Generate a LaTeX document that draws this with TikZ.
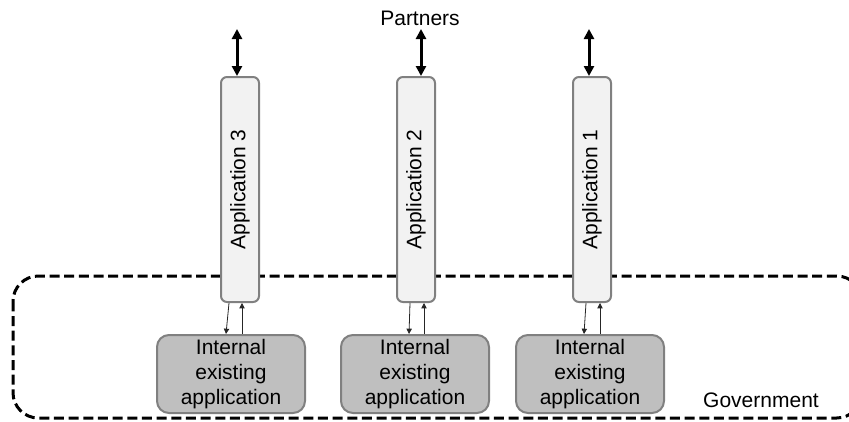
\documentclass[tikz,border=0pt]{standalone}
\usepackage{fontspec}
\setmainfont{Liberation Sans}
\usetikzlibrary{arrows.meta}
\definecolor{appfill}{RGB}{242,242,242}
\definecolor{intfill}{RGB}{191,191,191}
\definecolor{boxline}{RGB}{128,128,128}

\begin{document}
\begin{tikzpicture}[x=0.75pt, y=-0.75pt,
    app/.style={draw=boxline, fill=appfill, line width=1.5pt, rounded corners=4.5pt,
        rotate=90, minimum width=168.75pt, minimum height=28.5pt, inner sep=0pt,
        font=\fontsize{15.75}{18}\selectfont},
    internal/.style={draw=boxline, fill=intfill, line width=1.5pt, rounded corners=9pt,
        minimum width=111pt, minimum height=58.5pt, inner sep=0pt, align=center,
        font=\fontsize{15.75}{18.75}\selectfont},
    bigarrow/.style={{Triangle[length=7.5pt,width=7.5pt]}-{Triangle[length=7.5pt,width=7.5pt]}, line width=2.25pt},
    smallarrow/.style={-{Triangle[length=4pt,width=4pt]}, line width=0.6pt, draw=black!85},
    label/.style={font=\fontsize{15.75}{18}\selectfont}]
    \useasboundingbox (0,0) rectangle (849,421);

    % Borde del gobierno
    \draw[line width=2.25pt, dash pattern=on 7.5pt off 3.5pt, rounded corners=19pt] (13,276) rectangle (862,418);

    % Aplicaciones
    \node[app] (app3) at (240,189.5) {Application 3};
    \node[app] (app2) at (416,189.5) {Application 2};
    \node[app] (app1) at (592,189.5) {Application 1};

    % Aplicaciones internas
    \node[internal] (int3) at (231,374) {Internal\\existing\\application};
    \node[internal] (int2) at (415,374) {Internal\\existing\\application};
    \node[internal] (int1) at (590,374) {Internal\\existing\\application};

    % Textos
    \node[label, anchor=base] (partners) at (420,25) {Partners};
    \node[label] (gov) at (761,400) {Government};

    % Flechas hacia los socios
    \coordinate (top3) at (237,29);
    \coordinate (top2) at (421,29);
    \coordinate (top1) at (589,29);
    \draw[bigarrow] (top3) -- (top3 |- app3.east);
    \draw[bigarrow] (top2) -- (top2 |- app2.east);
    \draw[bigarrow] (top1) -- (top1 |- app1.east);

    % Flechas internas
    \draw[smallarrow] ([xshift=-8.25pt]app3.west) -- ([xshift=-3.75pt]int3.north);
    \draw[smallarrow] ([xshift=8.25pt]int3.north) -- ([xshift=1.5pt]app3.west);
    \draw[smallarrow] ([xshift=-4.5pt]app2.west) -- ([xshift=-4.5pt]int2.north);
    \draw[smallarrow] ([xshift=6.75pt]int2.north) -- ([xshift=6pt]app2.west);
    \draw[smallarrow] ([xshift=-4.5pt]app1.west) -- ([xshift=-4.5pt]int1.north);
    \draw[smallarrow] ([xshift=7.5pt]int1.north) -- ([xshift=6pt]app1.west);
\end{tikzpicture}
\end{document}
